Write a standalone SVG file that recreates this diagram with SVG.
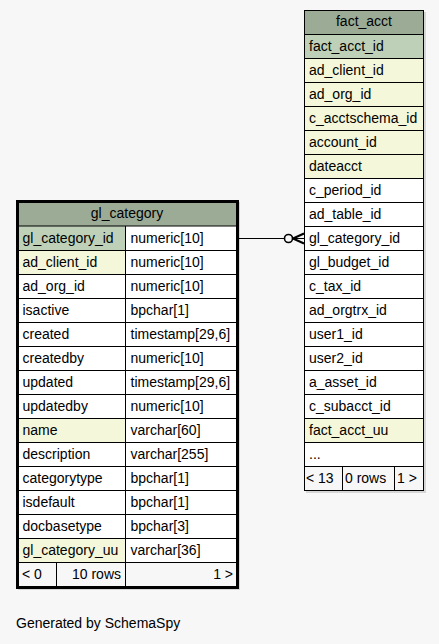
<svg xmlns="http://www.w3.org/2000/svg" width="439" height="644" viewBox="0 0 439 644">
<style>
text{font-family:"Liberation Sans",Arial,sans-serif;font-size:14px;fill:#000}
.hd{fill:#9bab96}
.pk{fill:#bed1b8}
.ix{fill:#f4f7da}
.nm{fill:#ffffff}
.ft{fill:#f7f7f7}
.ln{stroke:#000;stroke-width:1;fill:none}
.mid{text-anchor:middle}
.end{text-anchor:end}
.sh{fill:#d6d6d6}
</style>
<rect width="439" height="644" fill="#f7f7f7"/>

<g id="fact_acct">
<rect class="sh" x="306" y="12" width="120" height="481"/>
<rect class="hd" x="304" y="10" width="120" height="24"/>
<rect class="pk" x="304" y="34" width="120" height="24"/>
<rect class="ix" x="304" y="58" width="120" height="120"/>
<rect class="nm" x="304" y="178" width="120" height="240"/>
<rect class="ix" x="304" y="418" width="120" height="24"/>
<rect class="nm" x="304" y="442" width="120" height="24"/>
<rect class="ft" x="304" y="466" width="120" height="24"/>
<path class="ln" d="M304 34.5H424M304 58.5H424M304 82.5H424M304 106.5H424M304 130.5H424M304 154.5H424M304 178.5H424M304 202.5H424M304 226.5H424M304 250.5H424M304 274.5H424M304 298.5H424M304 322.5H424M304 346.5H424M304 370.5H424M304 394.5H424M304 418.5H424M304 442.5H424M304 466.5H424M342.5 466V490M394.5 466V490"/>
<rect class="ln" x="304.5" y="10.5" width="119" height="480"/>
<text class="mid" x="364" y="26">fact_acct</text>
<text x="309" y="50.5">fact_acct_id</text>
<text x="309" y="74.5">ad_client_id</text>
<text x="309" y="98.5">ad_org_id</text>
<text x="309" y="122.5">c_acctschema_id</text>
<text x="309" y="146.5">account_id</text>
<text x="309" y="170.5">dateacct</text>
<text x="309" y="194.5">c_period_id</text>
<text x="309" y="218.5">ad_table_id</text>
<text x="309" y="242.5">gl_category_id</text>
<text x="309" y="266.5">gl_budget_id</text>
<text x="309" y="290.5">c_tax_id</text>
<text x="309" y="314.5">ad_orgtrx_id</text>
<text x="309" y="338.5">user1_id</text>
<text x="309" y="362.5">user2_id</text>
<text x="309" y="386.5">a_asset_id</text>
<text x="309" y="410.5">c_subacct_id</text>
<text x="309" y="434.5">fact_acct_uu</text>
<text x="309" y="458.5">...</text>
<text x="306" y="482.5">&lt; 13</text>
<text x="345" y="482.5">0 rows</text>
<text x="397" y="482.5">1 &gt;</text>
</g>

<g id="gl_category">
<rect class="sh" x="18" y="202" width="222" height="388"/>
<rect class="hd" x="17" y="201" width="221" height="25"/>
<rect class="pk" x="17" y="226" width="109" height="24"/>
<rect class="nm" x="126" y="226" width="112" height="24"/>
<rect class="ix" x="17" y="250" width="109" height="24"/>
<rect class="nm" x="126" y="250" width="112" height="168"/>
<rect class="nm" x="17" y="274" width="109" height="144"/>
<rect class="ix" x="17" y="418" width="109" height="24"/>
<rect class="nm" x="126" y="418" width="112" height="120"/>
<rect class="nm" x="17" y="442" width="109" height="96"/>
<rect class="ix" x="17" y="538" width="109" height="24"/>
<rect class="nm" x="126" y="538" width="112" height="24"/>
<rect class="ft" x="17" y="562" width="221" height="25"/>
<path class="ln" d="M17 226H238M17 250.5H238M17 274.5H238M17 298.5H238M17 322.5H238M17 346.5H238M17 370.5H238M17 394.5H238M17 418.5H238M17 442.5H238M17 466.5H238M17 490.5H238M17 514.5H238M17 538.5H238M17 562.5H238M125.5 226V587M56.5 562V587"/>
<rect x="17.5" y="201.5" width="220" height="386" fill="none" stroke="#000" stroke-width="3"/>
<text class="mid" x="127" y="218">gl_category</text>
<text x="22.5" y="242.5">gl_category_id</text><text x="130.5" y="242.5">numeric[10]</text>
<text x="22.5" y="266.5">ad_client_id</text><text x="130.5" y="266.5">numeric[10]</text>
<text x="22.5" y="290.5">ad_org_id</text><text x="130.5" y="290.5">numeric[10]</text>
<text x="22.5" y="314.5">isactive</text><text x="130.5" y="314.5">bpchar[1]</text>
<text x="22.5" y="338.5">created</text><text x="130.5" y="338.5">timestamp[29,6]</text>
<text x="22.5" y="362.5">createdby</text><text x="130.5" y="362.5">numeric[10]</text>
<text x="22.5" y="386.5">updated</text><text x="130.5" y="386.5">timestamp[29,6]</text>
<text x="22.5" y="410.5">updatedby</text><text x="130.5" y="410.5">numeric[10]</text>
<text x="22.5" y="434.5">name</text><text x="130.5" y="434.5">varchar[60]</text>
<text x="22.5" y="458.5">description</text><text x="130.5" y="458.5">varchar[255]</text>
<text x="22.5" y="482.5">categorytype</text><text x="130.5" y="482.5">bpchar[1]</text>
<text x="22.5" y="506.5">isdefault</text><text x="130.5" y="506.5">bpchar[1]</text>
<text x="22.5" y="530.5">docbasetype</text><text x="130.5" y="530.5">bpchar[3]</text>
<text x="22.5" y="554.5">gl_category_uu</text><text x="130.5" y="554.5">varchar[36]</text>
<text x="22" y="578.5">&lt; 0</text>
<text class="end" x="121" y="578.5">10 rows</text>
<text class="end" x="233" y="578.5">1 &gt;</text>
</g>

<g id="connectors">
<path d="M239 238.5H284.5M292.5 238.5H304" fill="none" stroke="#000" stroke-width="1.2"/>
<path d="M293 238.5L304 233.5M293 238.5L304 243.5" fill="none" stroke="#000" stroke-width="2"/>
<circle cx="288.5" cy="238.5" r="4" fill="none" stroke="#000" stroke-width="1.6"/>
</g>

<text x="16" y="628">Generated by SchemaSpy</text>
</svg>
